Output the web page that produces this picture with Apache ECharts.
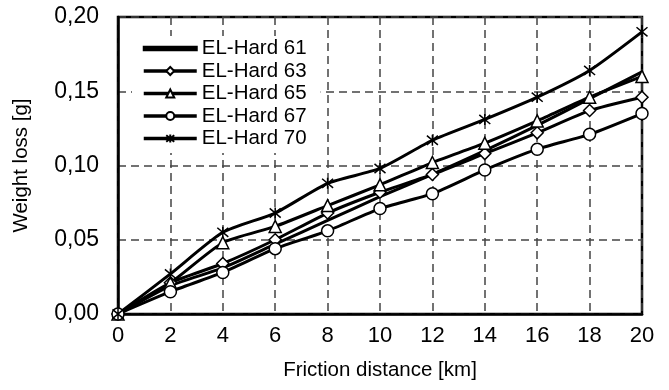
<!DOCTYPE html>
<html>
<head>
<meta charset="utf-8">
<script src="https://cdn.jsdelivr.net/npm/echarts@6/dist/echarts.min.js"></script>
<style>
  html, body { margin: 0; padding: 0; background: #fff; }
  #chart { width: 669px; height: 390px; }
</style>
</head>
<body>
<div id="chart"></div>
<script>
// friction distance [km]
const distance = [0, 2, 4, 6, 8, 10, 12, 14, 16, 18, 20];

// weight loss [g]
const hard61 = [0, 0.019, 0.031, 0.047, 0.063, 0.079, 0.094, 0.110, 0.127, 0.145, 0.163];
const hard63 = [0, 0.021, 0.034, 0.050, 0.068, 0.082, 0.094, 0.108, 0.122, 0.137, 0.146];
const hard65 = [0, 0.021, 0.048, 0.059, 0.073, 0.087, 0.102, 0.115, 0.130, 0.146, 0.160];
const hard67 = [0, 0.015, 0.028, 0.044, 0.056, 0.071, 0.081, 0.097, 0.111, 0.121, 0.135];
const hard70 = [0, 0.027, 0.055, 0.068, 0.088, 0.098, 0.117, 0.131, 0.146, 0.164, 0.190];

const seriesNames = ['EL-Hard 61', 'EL-Hard 63', 'EL-Hard 65', 'EL-Hard 67', 'EL-Hard 70'];

const font = 'Liberation Sans, Arial, sans-serif';
const asterisk = 'path://M0,0L10,10M10,0L0,10M5,-1L5,11';

const pairs = vals => distance.map((d, i) => [d, vals[i]]);

function makeSeries(name, vals, symbol, size) {
  const plain = symbol === 'none';
  return {
    name: name,
    type: 'line',
    data: pairs(vals),
    smooth: 0.2,
    symbol: symbol,
    symbolSize: size,
    showSymbol: !plain,
    lineStyle: { color: '#000', width: 3 },
    itemStyle: {
      color: plain ? '#000' : (symbol === asterisk ? 'none' : '#fff'),
      borderColor: '#000',
      borderWidth: 1.5
    },
    z: 3
  };
}

const chart = echarts.init(document.getElementById('chart'), null, { renderer: 'canvas' });

// first entry has no marker, so give it a plain bar as its legend icon
const legendData = seriesNames.map((n, i) => i === 0
  ? { name: n, icon: 'path://M0,0H53V3.5H0Z' }
  : { name: n });

const option = {
  animation: false,
  backgroundColor: '#fff',
  grid: {
    left: 118, right: 27, top: 17, bottom: 76,
    show: true, borderColor: '#000', borderWidth: 2.5, backgroundColor: 'transparent'
  },
  legend: {
    data: legendData,
    orient: 'vertical',
    left: 132, top: 36,
    padding: [2, 14, 4, 10],
    backgroundColor: '#fff',
    itemWidth: 53, itemHeight: 10, itemGap: 1.5,
    lineStyle: { width: 3.5, color: '#000' },
    textStyle: { fontFamily: font, fontSize: 20.5, color: '#000', lineHeight: 20 },
    z: 5
  },
  xAxis: {
    type: 'value', min: 0, max: 20, interval: 2,
    name: 'Friction distance [km]', nameLocation: 'middle', nameGap: 46,
    nameTextStyle: { fontFamily: font, fontSize: 20.5, color: '#000' },
    axisLine: { show: true, lineStyle: { color: '#000', width: 2.5 } },
    axisTick: { show: false },
    axisLabel: { fontFamily: font, fontSize: 22, color: '#000', margin: 11 },
    splitLine: { show: true, lineStyle: { color: '#444', width: 1.5, type: [8, 5] } }
  },
  yAxis: {
    type: 'value', min: 0, max: 0.2, interval: 0.05,
    name: 'Weight loss [g]', nameLocation: 'middle', nameGap: 86,
    nameTextStyle: { fontFamily: font, fontSize: 20.5, color: '#000' },
    axisLine: { show: true, lineStyle: { color: '#000', width: 2.5 } },
    axisTick: { show: false },
    axisLabel: {
      fontFamily: font, fontSize: 23, color: '#000', margin: 19,
      formatter: v => v.toFixed(2).replace('.', ',')
    },
    splitLine: { show: true, lineStyle: { color: '#444', width: 1.5, type: [8, 5] } }
  },
  series: [
    makeSeries(seriesNames[0], hard61, 'none', 0),
    makeSeries(seriesNames[1], hard63, 'diamond', 12),
    makeSeries(seriesNames[2], hard65, 'triangle', 12),
    makeSeries(seriesNames[3], hard67, 'circle', 12),
    makeSeries(seriesNames[4], hard70, asterisk, 11)
  ]
};

chart.setOption(option);
</script>
</body>
</html>
